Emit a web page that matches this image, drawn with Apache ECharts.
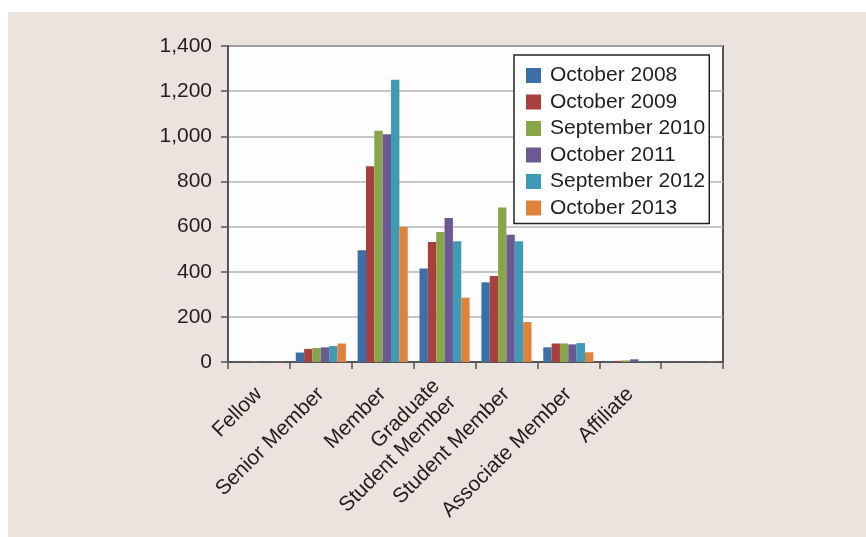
<!DOCTYPE html>
<html>
<head>
<meta charset="utf-8">
<script src="https://cdn.jsdelivr.net/npm/echarts@6/dist/echarts.min.js"></script>
<style>
html,body{margin:0;padding:0;background:#ffffff;}
#bg{position:absolute;left:8px;top:12px;width:858px;height:525px;background:#ebe3de;}
#chart{position:absolute;left:0;top:0;width:866px;height:537px;}
</style>
</head>
<body>
<div id="bg"></div>
<div id="chart"></div>
<script>
const categories = ['Fellow','Senior Member','Member','Graduate\nStudent Member','Student Member','Associate Member','Affiliate',''];
const seriesNames = ['October 2008','October 2009','September 2010','October 2011','September 2012','October 2013'];
const oct2008 = [2,42,495,414,353,65,4,2];
const oct2009 = [2,58,867,532,381,82,5,1];
const sep2010 = [2,62,1025,576,685,82,7,1];
const oct2011 = [2,65,1009,638,564,78,12,1];
const sep2012 = [2,71,1250,535,535,84,2,1];
const oct2013 = [2,82,598,285,177,43,1,2];
const yTicks = [0,200,400,600,800,1000,1200,1400];

const seriesData = [oct2008,oct2009,sep2010,oct2011,sep2012,oct2013];
const colors = ['#3b6fa8','#a8403f','#88a54a','#6c5893','#3f9bb5','#e0823a'];
const font = '"Liberation Sans", Arial, Helvetica, sans-serif';
const txt = '#231f20';

const chart = echarts.init(document.getElementById('chart'), null, {renderer:'canvas'});
chart.setOption({
  backgroundColor: 'transparent',
  animation: false,
  color: colors,
  textStyle: {fontFamily: font},
  grid: {left: 228, right: 143, top: 46, bottom: 175, show: true,
         backgroundColor: '#fdfdfe', borderColor: '#555555', borderWidth: 2},
  legend: {
    orient: 'vertical', left: 514, top: 55,
    backgroundColor: '#ffffff', borderColor: '#222222', borderWidth: 1.5,
    padding: [10, 4, 5, 12],
    itemWidth: 15, itemHeight: 15, itemGap: 5.5,
    icon: 'rect',
    textStyle: {fontSize: 21, lineHeight: 21, color: txt, fontFamily: font, padding: [0,0,0,4]},
    data: seriesNames
  },
  xAxis: {
    type: 'category', data: categories, boundaryGap: true,
    axisLine: {lineStyle: {color: '#555555', width: 2}},
    axisTick: {show: true, length: 7, lineStyle: {color: '#555555', width: 1.5}},
    axisLabel: {rotate: 45, interval: 0, fontSize: 21, color: txt, margin: 29, fontFamily: font, lineHeight: 23}
  },
  yAxis: {
    type: 'value', min: yTicks[0], max: yTicks[yTicks.length-1], interval: 200,
    axisLine: {show: true, lineStyle: {color: '#555555', width: 2}},
    axisTick: {show: true, length: 7, lineStyle: {color: '#555555', width: 1.5}},
    splitLine: {show: true, lineStyle: {color: '#b5b5b5', width: 1.5}},
    axisLabel: {fontSize: 21, color: txt, margin: 16, fontFamily: font,
      formatter: v => v.toLocaleString('en-US')}
  },
  series: seriesNames.map((n, i) => ({
    name: n, type: 'bar', data: seriesData[i],
    barGap: '0%', barCategoryGap: '19%',
    itemStyle: {color: colors[i]}
  }))
});
</script>
</body>
</html>
